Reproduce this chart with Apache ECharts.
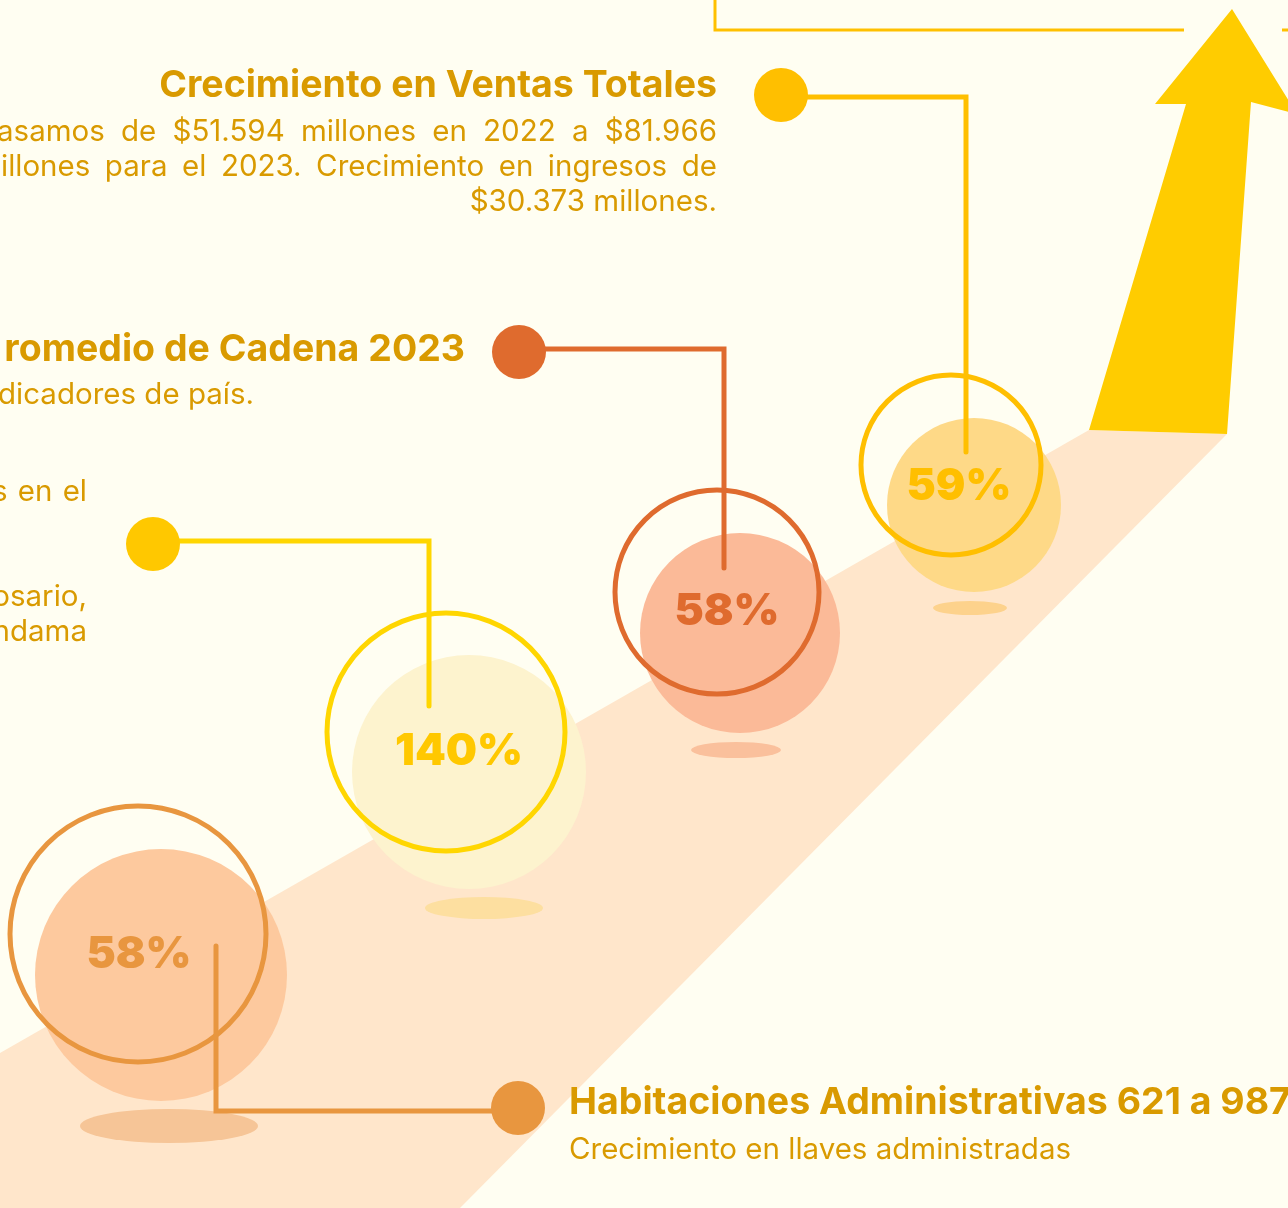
<!DOCTYPE html>
<html><head><meta charset="utf-8">
<script src="https://cdn.jsdelivr.net/npm/echarts@6/dist/echarts.min.js"></script>
<style>html,body{margin:0;padding:0;background:#FFFEF2;}#c{width:1288px;height:1208px;}</style>
</head><body><div id="c"></div><script>
// ---- data ----
const metricNames = ['Habitaciones Administrativas', 'Crecimiento', 'Promedio de Cadena 2023', 'Ventas Totales'];
const growthPct = [58, 140, 58, 59];
const roomsFrom = 621;
const roomsTo = 987;
const sales2022 = '$51.594';
const sales2023 = '$81.966';
const salesDiff = '$30.373';

// ---- layout (pixel space of the hidden axes) ----
const FONT = 'Inter';
const GOLD = '#D99A00';
const LAYOUT = [
  {disc:[161,975,126], ring:[138,934,128], shadow:[169,1126,89,17], text:[139,955],
   lead:[[216,946],[216,1111],[505,1111]], dot:[518,1108,27],
   fill:'#FDC99E', ring_c:'#E8963F', shadow_c:'#F6C597', text_c:'#E8963F', line_c:'#E8963F', dot_c:'#E8963F'},
  {disc:[469,772,117], ring:[446,732,119], shadow:[484,908,59,11], text:[459,752],
   lead:[[429,706],[429,541],[165,541]], dot:[153,544,27],
   fill:'#FDF3CE', ring_c:'#FFD600', shadow_c:'#FDDFA0', text_c:'#FFC800', line_c:'#FFD600', dot_c:'#FFC800'},
  {disc:[740,633,100], ring:[717,592,102], shadow:[736,750,45,8], text:[727,612],
   lead:[[724,568],[724,349],[530,349]], dot:[519,352,27],
   fill:'#FBBA98', ring_c:'#DF6B2E', shadow_c:'#FAC09C', text_c:'#DF6B2E', line_c:'#DF6B2E', dot_c:'#DF6B2E'},
  {disc:[974,505,87], ring:[951,465,90], shadow:[970,608,37,7], text:[959,487],
   lead:[[966,452],[966,97],[790,97]], dot:[781,95,27],
   fill:'#FED987', ring_c:'#FFBF00', shadow_c:'#FDD28C', text_c:'#FFBF00', line_c:'#FFBF00', dot_c:'#FFBF00'}
];

const cv = document.createElement('canvas').getContext('2d');
function measure(t, size, weight){ cv.font = weight + ' ' + size + 'px ' + FONT; return cv.measureText(t).width; }
// y given as baseline; converted to top of text box
function txt(t, x, y, size, weight, align, color){
  return {type:'text', x:x, y:y - 0.82 * size, silent:true, style:{text:t, fontSize:size, fontWeight:weight, fontFamily:FONT,
    fill:color||GOLD, align:align, verticalAlign:'top'}};
}
function justify(line, x0, x1, y, size, weight){
  const words = line.split(' ');
  const ws = words.map(w => measure(w, size, weight));
  const sum = ws.reduce((a,b)=>a+b,0);
  const gap = (x1 - x0 - sum) / (words.length - 1);
  const out = []; let x = x0;
  words.forEach((w,i)=>{ out.push(txt(w, x, y, size, weight, 'left')); x += ws[i] + gap; });
  return out;
}

const TS = 37.5, BS = 29.5;
const graphics = [
  // path
  {type:'polygon', z:0, shape:{points:[[0,1053],[1089,430],[1227,434],[460,1208],[0,1208]]}, style:{fill:'#FFE6CB'}},
  // arrow
  {type:'polygon', z:1, shape:{points:[[1089,430],[1186,104],[1155,104],[1232,9],[1297,114],[1251,102],[1227,434]]}, style:{fill:'#FFCC00'}},
  // frame line
  {type:'polyline', z:1, shape:{points:[[715,0],[715,30],[1184,30]]}, style:{stroke:'#FFC000', lineWidth:3, fill:null}},
  {type:'line', z:1, shape:{x1:1282,y1:30,x2:1290,y2:30}, style:{stroke:'#FFC000', lineWidth:3}},
  // top block
  txt('Crecimiento en ' + metricNames[3], 717, 97, TS, 'bold', 'right'),
  ...justify('asamos de ' + sales2022 + ' millones en 2022 a ' + sales2023, -3, 717, 141, BS, 'normal'),
  ...justify('illones para el 2023. Crecimiento en ingresos de', 1, 717, 176, BS, 'normal'),
  txt(salesDiff + ' millones.', 717, 211, BS, 'normal', 'right'),
  // middle block
  txt('r' + metricNames[2].slice(2), 465, 361, TS, 'bold', 'right'),
  txt('dicadores de país.', -2, 404, BS, 'normal', 'left'),
  ...justify('s en el', -8, 87, 501, BS, 'normal'),
  txt('osario,', 87, 606, BS, 'normal', 'right'),
  txt('ndama', 87, 641, BS, 'normal', 'right'),
  // bottom block
  txt(metricNames[0] + ' ' + roomsFrom + ' a ' + roomsTo, 569, 1114, TS, 'bold', 'left'),
  txt('Crecimiento en llaves administradas', 569, 1159, BS, 'normal', 'left')
];

function renderBubble(params, api){
  const i = params.dataIndex, L = LAYOUT[i], v = api.value(1);
  const P = p => api.coord(p);
  const S = r => Math.abs(api.size([r, r])[0]);
  const sh = P([L.shadow[0], L.shadow[1]]);
  const d = P([L.disc[0], L.disc[1]]);
  const r = P([L.ring[0], L.ring[1]]);
  const t = P(L.text);
  const dot = P([L.dot[0], L.dot[1]]);
  return {type:'group', children:[
    {type:'circle', x:sh[0], y:sh[1], scaleY:L.shadow[3]/L.shadow[2], shape:{cx:0, cy:0, r:S(L.shadow[2])}, style:{fill:L.shadow_c}},
    {type:'circle', shape:{cx:d[0], cy:d[1], r:S(L.disc[2])}, style:{fill:L.fill}},
    {type:'circle', shape:{cx:r[0], cy:r[1], r:S(L.ring[2])}, style:{fill:'none', stroke:L.ring_c, lineWidth:5}},
    {type:'text', style:{text:v + '%', x:t[0], y:t[1], align:'center', verticalAlign:'middle',
      fill:L.text_c, fontSize:44, fontWeight:900, fontFamily:FONT}},
    {type:'polyline', shape:{points:L.lead.map(P)}, style:{stroke:L.line_c, lineWidth:5, fill:'none', lineCap:'round', lineJoin:'miter'}},
    {type:'circle', shape:{cx:dot[0], cy:dot[1], r:S(L.dot[2])}, style:{fill:L.dot_c}}
  ]};
}

const chart = echarts.init(document.getElementById('c'), null, {renderer:'canvas'});
chart.setOption({
  backgroundColor:'#FFFEF2',
  animation:false,
  grid:{left:0, right:0, top:0, bottom:0},
  xAxis:{type:'value', min:0, max:1288, show:false},
  yAxis:{type:'value', min:0, max:1208, inverse:true, show:false},
  graphic:graphics,
  series:[{type:'custom', clip:false, z:5, renderItem:renderBubble,
    data:growthPct.map((v,i)=>[i, v]), encode:{x:0, y:1}}]
});
</script></body></html>
